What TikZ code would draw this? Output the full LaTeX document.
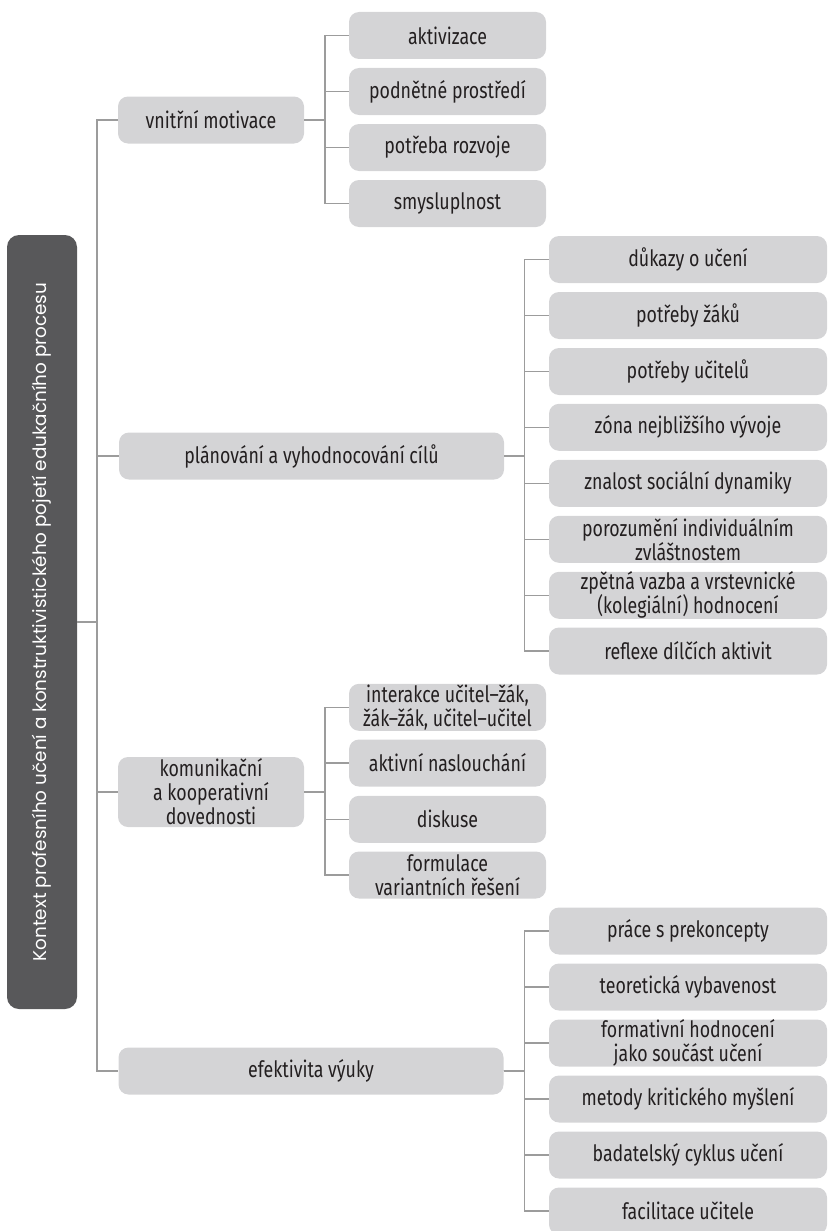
\documentclass[tikz,border=0pt]{standalone}
\usepackage{fontspec}
\setmainfont{Fira Sans}[FakeStretch=0.79]
\newfontfamily\rootfont{Poppins}
\definecolor{boxfill}{HTML}{D4D4D6}
\definecolor{rootfill}{HTML}{58585A}
\definecolor{txt}{HTML}{231F20}
\definecolor{linec}{HTML}{9C9C9C}
\begin{document}
\begin{tikzpicture}[x=1pt,y=-1pt,
  gbox/.style={fill=boxfill, rounded corners=10pt, text=txt, align=center,
    font=\fontsize{22.5}{24}\selectfont, inner sep=0pt, minimum height=47pt},
  lw1/.style={gbox, minimum width=197pt},
  lw2/.style={gbox, minimum width=278pt},
  conn/.style={draw=linec, line width=1.4pt}]
\useasboundingbox (0,0) rectangle (828,1231);
\begin{scope}
\clip (0,0) rectangle (828,1231);
% root
\node[fill=rootfill, rounded corners=12pt, minimum width=70pt, minimum height=774pt, inner sep=0pt] (root) at (42,622) {};
\node[rotate=90, text=white, font=\rootfont\fontsize{18.4}{20}\selectfont] (roottext) at (root.center) {Kontext profesního učení a konstruktivistického pojetí edukačního procesu};
% mid nodes
\node[gbox, minimum width=186pt] (m1) at (211,120) {vnitřní motivace};
\node[gbox, minimum width=385pt] (m2) at (311.5,456) {plánování a vyhodnocování cílů};
\node[gbox, minimum width=186pt, minimum height=70pt] (m3) at (211,792) {komunikační\\a kooperativní\\dovednosti};
\node[gbox, minimum width=385pt] (m4) at (311,1071) {efektivita výuky};
% group 1
\node[lw1] (a1) at (447.5,35.5) {aktivizace};
\node[lw1] (a2) at (447.5,91.5) {podnětné prostředí};
\node[lw1] (a3) at (447.5,147.5) {potřeba rozvoje};
\node[lw1] (a4) at (447.5,203.5) {smysluplnost};
% group 2
\node[lw2] (b1) at (688,259.5) {důkazy o učení};
\node[lw2] (b2) at (688,315.5) {potřeby žáků};
\node[lw2] (b3) at (688,371.5) {potřeby učitelů};
\node[lw2] (b4) at (688,427.3) {zóna nejbližšího vývoje};
\node[lw2] (b5) at (688,483.3) {znalost sociální dynamiky};
\node[lw2] (b6) at (688,539.3) {porozumění individuálním\\zvláštnostem};
\node[lw2] (b7) at (688,595.3) {zpětná vazba a vrstevnické\\(kolegiální) hodnocení};
\node[lw2] (b8) at (688,651) {reflexe dílčích aktivit};
% group 3
\node[lw1] (c1) at (447.5,707.3) {interakce učitel–žák,\\žák–žák, učitel–učitel};
\node[lw1] (c2) at (447.5,763) {aktivní naslouchání};
\node[lw1] (c3) at (447.5,819.3) {diskuse};
\node[lw1] (c4) at (447.5,875) {formulace\\variantních řešení};
% group 4
\node[lw2] (d1) at (688,931) {práce s prekoncepty};
\node[lw2] (d2) at (688,987) {teoretická vybavenost};
\node[lw2] (d3) at (688,1043) {formativní hodnocení\\jako součást učení};
\node[lw2] (d4) at (688,1099) {metody kritického myšlení};
\node[lw2] (d5) at (688,1155) {badatelský cyklus učení};
\node[lw2] (d6) at (688,1211) {facilitace učitele};
% connectors
\coordinate (trunk) at (97,0);
\coordinate (bA) at (325,0);
\coordinate (bB) at (524.5,0);
\draw[conn] (root.east) -- (root.east -| trunk);
\draw[conn] (m1.west) -- (m1.west -| trunk) -- (m4.west -| trunk) -- (m4.west);
\draw[conn] (m2.west) -- (m2.west -| trunk);
\draw[conn] (m3.west) -- (m3.west -| trunk);
\foreach \l in {a1,a2,a3,a4} \draw[conn] (m1.east) -- (m1.east -| bA) |- (\l.west);
\foreach \l in {b1,b2,b3,b4,b5,b6,b7,b8} \draw[conn] (m2.east) -- (m2.east -| bB) |- (\l.west);
\foreach \l in {c1,c2,c3,c4} \draw[conn] (m3.east) -- (m3.east -| bA) |- (\l.west);
\foreach \l in {d1,d2,d3,d4,d5,d6} \draw[conn] (m4.east) -- (m4.east -| bB) |- (\l.west);
\end{scope}
\end{tikzpicture}
\end{document}
